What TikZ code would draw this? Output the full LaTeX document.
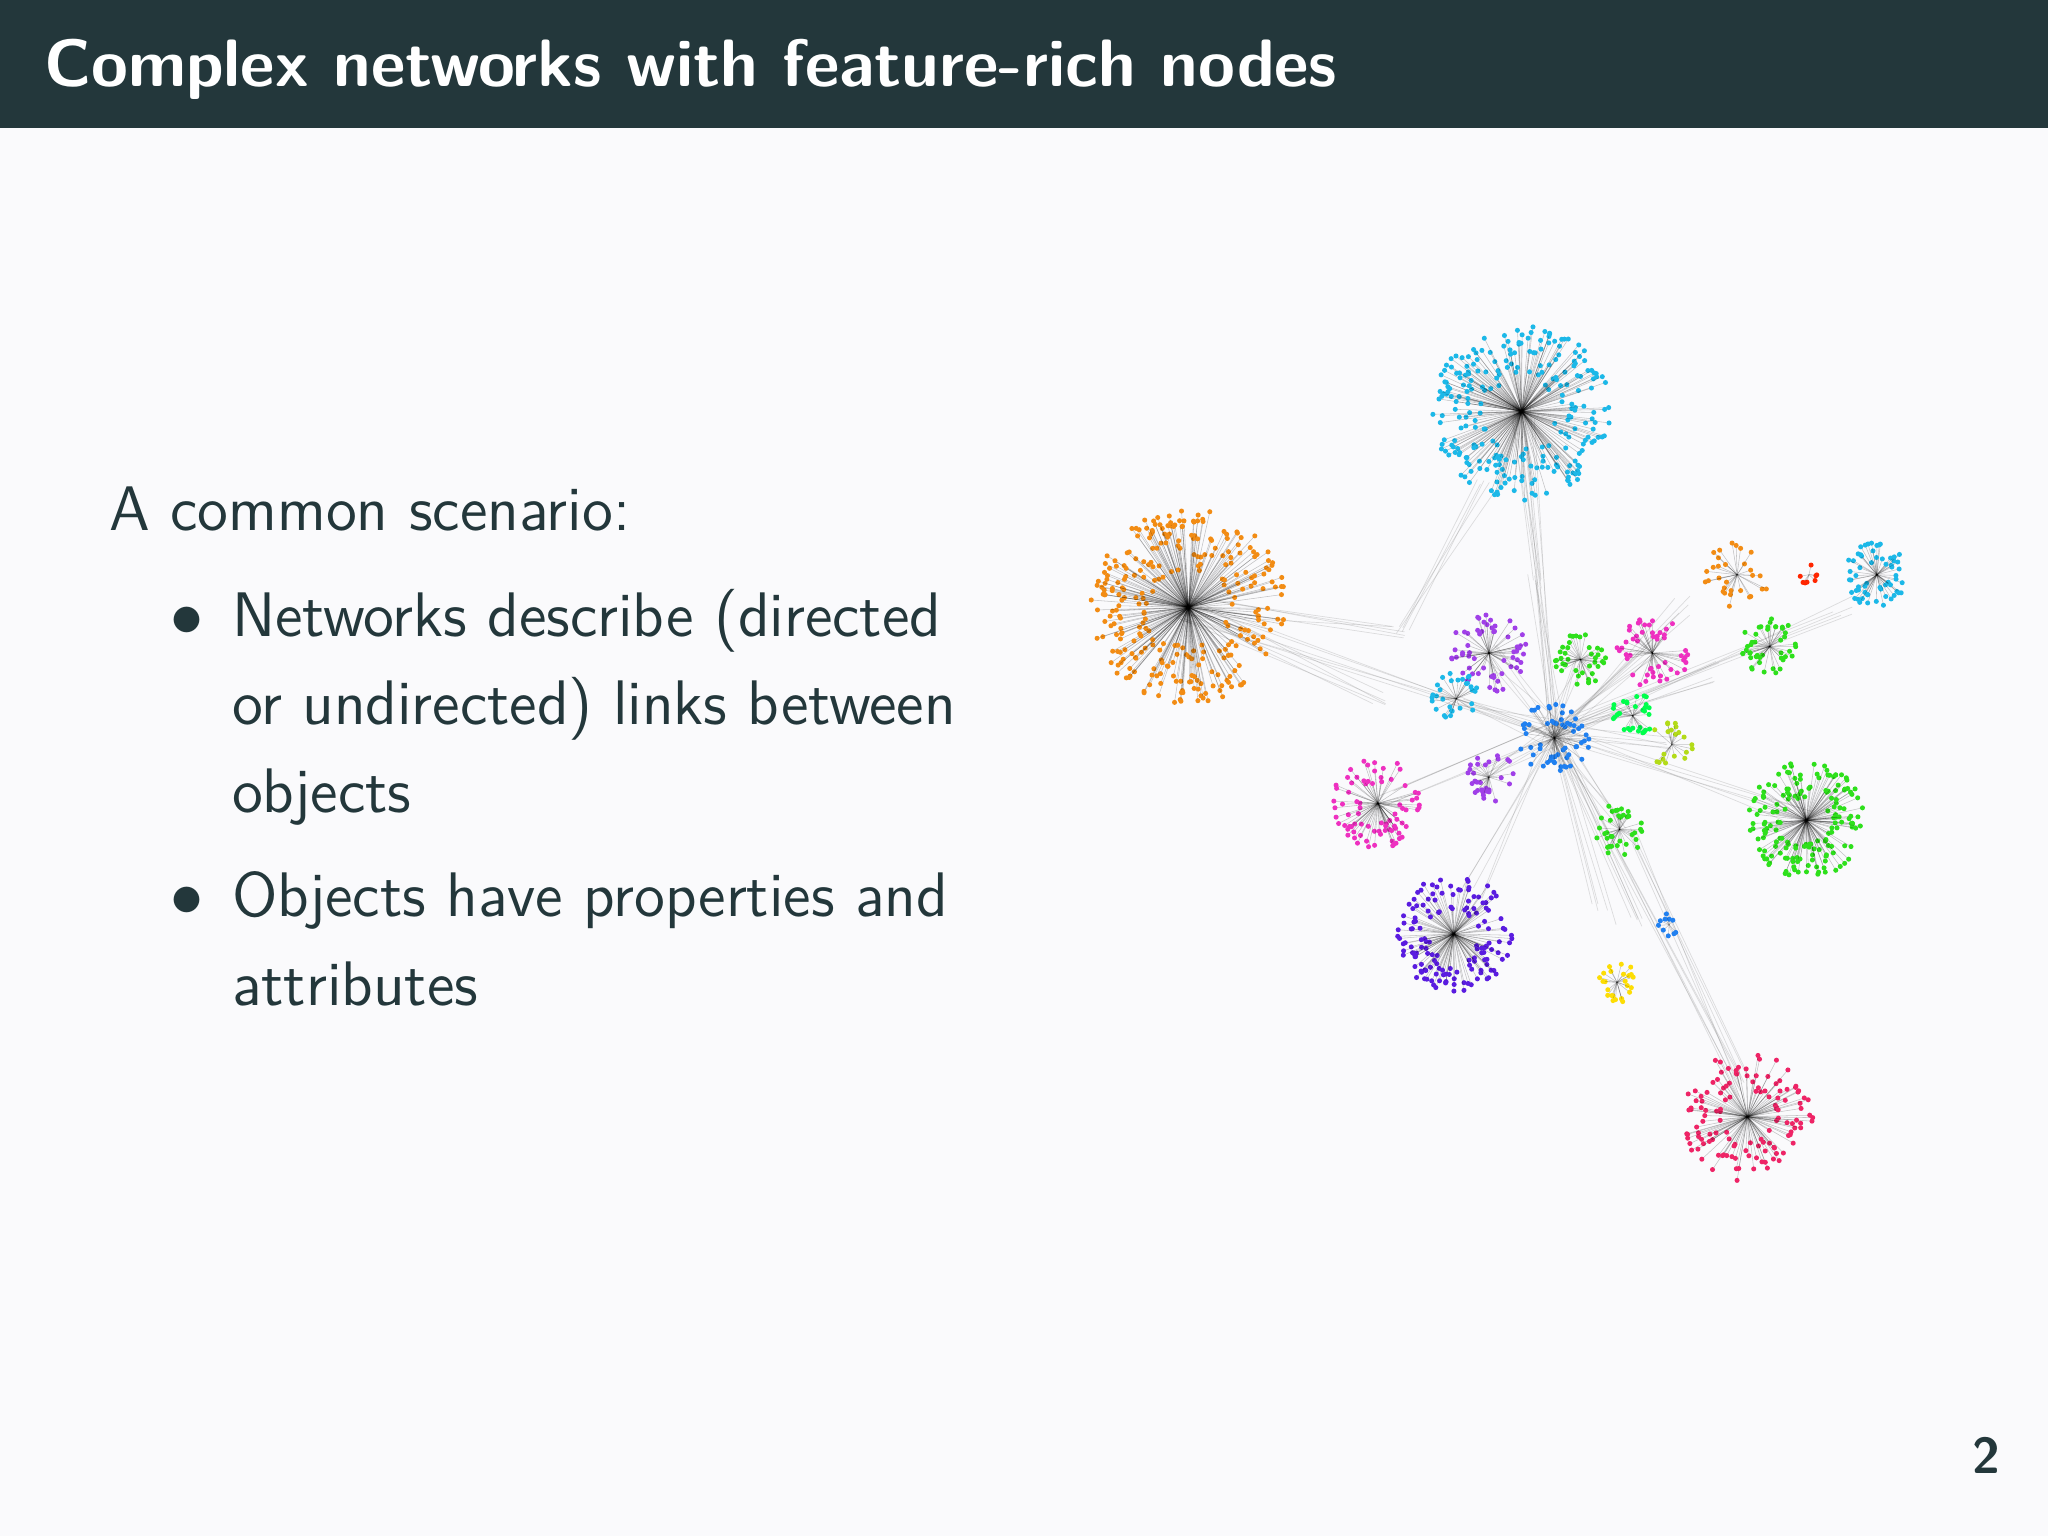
\documentclass[tikz,border=0pt]{standalone}
\usepackage{xcolor}
\definecolor{bg}{HTML}{FAFAFC}
\definecolor{hdr}{HTML}{23373B}
\definecolor{txt}{HTML}{23373B}
\definecolor{ccyan}{HTML}{1CB8E8}
\definecolor{corange}{HTML}{F28C14}
\definecolor{cgreen}{HTML}{2EE01C}
\definecolor{cviolet}{HTML}{5A1CE0}
\definecolor{ccrimson}{HTML}{EE2466}
\definecolor{cmag}{HTML}{EE30C0}
\definecolor{cpurp}{HTML}{A040E8}
\definecolor{cblue}{HTML}{2080F0}
\begin{document}
\begin{tikzpicture}[x=0.01cm,y=-0.01cm,
  edge/.style={black,opacity=0.22,line width=0.12pt},
  link/.style={gray,opacity=0.25,line width=0.15pt},
  body/.style={anchor=base west,inner sep=0,text=txt,font=\sffamily\fontsize{13.7}{16}\selectfont}]
\fill[bg] (0,0) rectangle (1568,1176);
\useasboundingbox (0,0) rectangle (1568,1176);
\fill[hdr] (0,0) rectangle (1568,98);
\node[anchor=base west,inner sep=0,text=white,font=\sffamily\bfseries\fontsize{14.6}{17}\selectfont] (title) at (33,66) {Complex networks with feature-rich nodes};
\node[body] (l0) at (83,406) {A common scenario:};
\node[body] (b1) at (130,487) {$\bullet$};
\node[body] (l1) at (177,487) {Networks describe (directed};
\node[body] (l2) at (177,555) {or undirected) links between};
\node[body] (l3) at (177,622) {objects};
\node[body] (b2) at (130,702) {$\bullet$};
\node[body] (l4) at (177,702) {Objects have properties and};
\node[body] (l5) at (177,770) {attributes};
\node[anchor=base east,inner sep=0,text=txt,font=\sffamily\bfseries\fontsize{11}{13}\selectfont] (pg) at (1532,1128) {2};
\newcommand\cluster[5]{%
  \foreach \i in {1,...,#4}{%
    \pgfmathsetmacro\aa{360*rnd}%
    \pgfmathsetmacro\rr{#3*sqrt(0.15+0.85*rnd)}%
    \draw[edge] (#1,#2) -- ++(\aa:\rr);
    \fill[#5] (#1,#2) ++(\aa:\rr) circle[radius=0.55pt];
  }}
\pgfmathsetseed{7}
\foreach \ax/\ay/\bx/\by in {1190/560/1165/315, 1190/560/910/465, 1190/560/1383/628, 1190/560/1128/680, 1190/560/1335/830,
  1190/560/1060/610, 1190/560/1228/700, 1190/560/1410/465, 1190/560/1290/462, 1190/560/1320/515, 1190/560/1255/710,
  1175/445/1165/315, 1070/485/910/465, 1075/485/1140/370, 1055/535/910/465, 1175/445/1190/560, 1250/640/1335/830,
  1140/500/1190/560, 1210/505/1190/560, 1265/500/1190/560, 1115/535/1190/560, 1140/590/1190/560, 1250/545/1190/560,
  1280/570/1190/560, 1240/630/1190/560}{
  \foreach \k in {1,...,5}{\draw[link] (\ax+12*rnd-6,\ay+12*rnd-6) -- (\bx+20*rnd-10,\by+20*rnd-10);}
}
\cluster{1165}{315}{68}{260}{ccyan}
\cluster{910}{465}{75}{300}{corange}
\cluster{1383}{628}{45}{170}{cgreen}
\cluster{1113}{715}{45}{150}{cviolet}
\cluster{1338}{855}{50}{130}{ccrimson}
\cluster{1055}{615}{35}{80}{cmag}
\cluster{1140}{500}{30}{60}{cpurp}
\cluster{1210}{505}{20}{40}{cgreen}
\cluster{1265}{500}{28}{50}{cmag}
\cluster{1115}{535}{20}{30}{ccyan}
\cluster{1190}{565}{28}{60}{cblue}
\cluster{1140}{595}{20}{30}{cpurp}
\cluster{1250}{548}{18}{30}{green!70!cyan}
\cluster{1280}{570}{18}{20}{yellow!70!green}
\cluster{1240}{635}{20}{35}{cgreen}
\cluster{1238}{752}{16}{25}{yellow!80!orange}
\cluster{1278}{708}{10}{10}{cblue}
\cluster{1437}{440}{25}{60}{ccyan}
\cluster{1330}{440}{25}{30}{corange}
\cluster{1355}{495}{22}{45}{cgreen}
\cluster{1385}{440}{8}{8}{red!70!orange}
\end{tikzpicture}
\end{document}
